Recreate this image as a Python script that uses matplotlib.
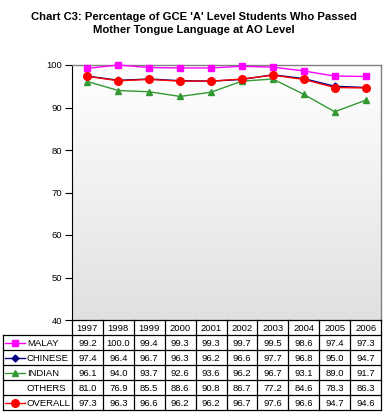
import numpy as np
import matplotlib
matplotlib.use("Agg")
import matplotlib.pyplot as plt
from matplotlib.colors import LinearSegmentedColormap

years = ["1997", "1998", "1999", "2000", "2001", "2002", "2003", "2004", "2005", "2006"]
malay = [99.2, 100.0, 99.4, 99.3, 99.3, 99.7, 99.5, 98.6, 97.4, 97.3]
chinese = [97.4, 96.4, 96.7, 96.3, 96.2, 96.6, 97.7, 96.8, 95.0, 94.7]
indian = [96.1, 94.0, 93.7, 92.6, 93.6, 96.2, 96.7, 93.1, 89.0, 91.7]
others = [81.0, 76.9, 85.5, 88.6, 90.8, 86.7, 77.2, 84.6, 78.3, 86.3]
overall = [97.3, 96.3, 96.6, 96.2, 96.2, 96.7, 97.6, 96.6, 94.7, 94.6]

row_names = ["MALAY", "CHINESE", "INDIAN", "OTHERS", "OVERALL"]
row_values = [malay, chinese, indian, others, overall]
# style per row: (color, marker) ; OTHERS is only in the table
row_styles = [("#ff00ff", "s"), ("#000080", "D"), ("#339933", "^"), (None, None), ("#ff0000", "o")]

plt.rcParams["font.family"] = ["Liberation Sans", "DejaVu Sans"]

W, H = 387, 417
fig = plt.figure(figsize=(W / 100, H / 100), dpi=100)

# main plot area (pixels: x 72..381, y 65..320)
ax = fig.add_axes([72 / W, (H - 320) / H, 309 / W, 255 / H])
x = np.arange(1, len(years) + 1)
ax.set_xlim(0.5, len(years) + 0.5)
ax.set_ylim(40, 100)

grad = LinearSegmentedColormap.from_list("g", ["#ffffff", "#f0f0f0", "#e0e0e0"])
ax.imshow(np.linspace(0, 1, 256).reshape(-1, 1), cmap=grad, aspect="auto",
          extent=[0.5, len(years) + 0.5, 40, 100], zorder=0)

sizes = {"s": 5, "D": 3.5, "^": 5, "o": 5.5}
for name, vals, (c, m) in zip(row_names, row_values, row_styles):
    if c is None:
        continue
    ax.plot(x, vals, color=c, marker=m, markersize=sizes[m], linewidth=1,
            markeredgecolor=c, zorder=3, clip_on=False)

ax.set_yticks(range(40, 101, 10))
ax.set_xticks([])
ax.tick_params(axis="y", direction="out", length=5, width=0.8, labelsize=6.8, pad=2)
ax.spines["left"].set_color("black")
ax.spines["left"].set_linewidth(0.8)
for s in ("top", "right"):
    ax.spines[s].set_color("#808080")
    ax.spines[s].set_linewidth(1)
ax.spines["bottom"].set_visible(False)

fig.text(0.5, 1 - 17 / H, "Chart C3: Percentage of GCE 'A' Level Students Who Passed",
         ha="center", va="center", fontsize=8.1, fontweight="bold")
fig.text(0.5, 1 - 30 / H, "Mother Tongue Language at AO Level",
         ha="center", va="center", fontsize=8.1, fontweight="bold")

# data table under the plot (pixels: x 3..381, y 320..410)
unit = 309 / len(years)
x0 = 0.5 - 69 / unit
tab = fig.add_axes([3 / W, (H - 410) / H, 378 / W, 90 / H])
tab.set_xlim(x0, len(years) + 0.5)
tab.set_ylim(6, 0)
tab.axis("off")

lw = 0.9
nrows = len(row_names)
# horizontal lines
tab.plot([0.5, len(years) + 0.5], [0, 0], color="black", lw=lw, clip_on=False)
for r in range(1, nrows + 2):
    tab.plot([x0, len(years) + 0.5], [r, r], color="black", lw=lw, clip_on=False)
# vertical lines
tab.plot([x0, x0], [1, nrows + 1], color="black", lw=lw, clip_on=False)
for i in range(len(years) + 1):
    tab.plot([i + 0.5, i + 0.5], [0, nrows + 1], color="black", lw=lw, clip_on=False)

for i, yr in enumerate(years):
    tab.text(i + 1, 0.55, yr, ha="center", va="center", fontsize=6.8)

for r, (name, vals, (c, m)) in enumerate(zip(row_names, row_values, row_styles)):
    yc = r + 1.55
    if c is not None:
        tab.plot([x0 + 2 / unit, x0 + 22 / unit], [yc - 0.05, yc - 0.05], color=c, lw=1,
                 clip_on=False)
        tab.plot([x0 + 12 / unit], [yc - 0.05], color=c, marker=m, markersize=sizes[m],
                 clip_on=False)
    tab.text(x0 + 24 / unit, yc, name, ha="left", va="center", fontsize=6.8)
    for i, v in enumerate(vals):
        tab.text(i + 1, yc, f"{v:.1f}", ha="center", va="center", fontsize=6.8)

fig.savefig("out.png", dpi=100)
